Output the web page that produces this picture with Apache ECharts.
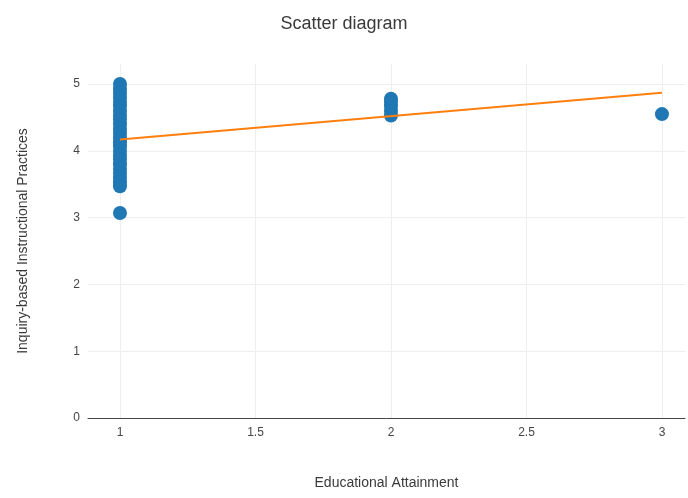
<!DOCTYPE html>
<html>
<head>
<meta charset="utf-8">
<script src="https://cdn.jsdelivr.net/npm/echarts@6/dist/echarts.min.js"></script>
<style>html,body{margin:0;padding:0;background:#fff}#c{width:688px;height:498px}</style>
</head>
<body>
<div id="c"></div>
<script>
var attainment = [1,1,1,1,1,1,1,1,1,1,1,1,1,1,1,1,1,1,1,1,1,1,1,1,1, 2,2,2,2,2, 3];
var practices = [5.0,4.93,4.87,4.8,4.73,4.67,4.6,4.53,4.47,4.4,4.33,4.27,4.2,4.13,4.07,4.0,3.93,3.87,3.8,3.73,3.67,3.6,3.53,3.47,3.07, 4.53,4.6,4.67,4.73,4.78, 4.55];
var trendX = [1, 3];
var trendY = [4.17, 4.87];
var xTicks = [1, 1.5, 2, 2.5, 3];
var yTicks = [0, 1, 2, 3, 4, 5];

var points = attainment.map(function(x, i){ return [x, practices[i]]; });
var trend = trendX.map(function(x, i){ return [x, trendY[i]]; });
var font = 'Liberation Sans, Arial, sans-serif';

var chart = echarts.init(document.getElementById('c'));
chart.setOption({
  animation: false,
  title: { text: 'Scatter diagram', left: 'center', top: 10,
    textStyle: { fontFamily: font, fontSize: 18, fontWeight: 'normal', color: '#3a3a3a' } },
  grid: { left: 88, right: 3, top: 64, bottom: 80 },
  xAxis: {
    type: 'value', min: 0.882, max: 3.085,
    name: 'Educational Attainment', nameLocation: 'middle', nameGap: 58,
    nameTextStyle: { fontFamily: font, fontSize: 14, color: '#3a3a3a' },
    axisLine: { show: true, onZero: false, lineStyle: { color: '#444', width: 1 } },
    axisTick: { show: false, customValues: xTicks },
    axisLabel: { customValues: xTicks, fontFamily: font, fontSize: 12, color: '#444', margin: 9 },
    splitLine: { show: true, lineStyle: { color: '#eee', width: 1 } }
  },
  yAxis: {
    type: 'value', min: 0, max: 5.3,
    name: 'Inquiry-based Instructional Practices', nameLocation: 'middle', nameGap: 58,
    nameTextStyle: { fontFamily: font, fontSize: 14, color: '#3a3a3a' },
    axisLine: { show: false },
    axisTick: { show: false, customValues: yTicks },
    axisLabel: { customValues: yTicks, fontFamily: font, fontSize: 12, color: '#444', margin: 8 },
    splitLine: { show: true, lineStyle: { color: '#eee', width: 1 } }
  },
  series: [
    { type: 'scatter', data: points, symbolSize: 14, itemStyle: { color: '#1f77b4', opacity: 1 }, z: 2 },
    { type: 'line', data: trend, symbol: 'none', lineStyle: { color: '#ff7f0e', width: 2 }, z: 3 }
  ]
});
</script>
</body>
</html>
